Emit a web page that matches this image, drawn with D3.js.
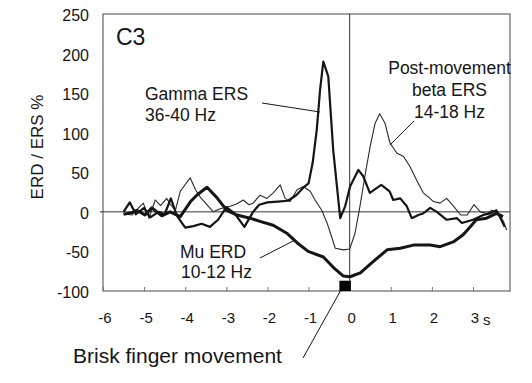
<!DOCTYPE html>
<html><head><meta charset="utf-8">
<script src="https://cdn.jsdelivr.net/npm/d3@7"></script>
<style>
html,body{margin:0;padding:0;background:#fff;}
svg{display:block;font-family:"Liberation Sans",Arial,Helvetica,sans-serif;}
</style></head>
<body><svg id="c" width="532" height="383"></svg>
<script>
// ---- data (time in s relative to movement, values in % ERD/ERS) ----
const muT = [-5.5,-5.3,-5.18,-4.98,-4.81,-4.57,-4.37,-4.12,-3.87,-3.7,-3.47,-3.23,-2.99,-2.74,-2.42,-2.18,-1.86,-1.53,-1.28,-1.01,-0.64,-0.4,-0.16,0.01,0.26,0.57,0.91,1.23,1.55,1.96,2.2,2.52,2.76,2.93,3.08,3.33,3.57,3.73];
const muV = [-3,-1,2,-4,5,-5,0,-6,13,22,31,18,2,-4,-8,-12,-17,-27,-39,-50,-57,-70,-81,-82,-77,-63,-48,-46,-42,-42,-44,-38,-29,-19,-10,-8,-2,-6];

const gammaT = [-5.5,-5.35,-5.2,-5.0,-4.85,-4.65,-4.5,-4.35,-4.2,-4.0,-3.8,-3.6,-3.4,-3.2,-3.0,-2.8,-2.56,-2.35,-2.2,-2.0,-1.75,-1.5,-1.3,-1.1,-1.0,-0.9,-0.8,-0.72,-0.64,-0.52,-0.4,-0.23,-0.11,0.01,0.21,0.33,0.49,0.77,0.97,1.06,1.23,1.39,1.51,1.67,1.79,1.96,2.12,2.36,2.61,2.73,3.0,3.25,3.41,3.57,3.65,3.77];
const gammaV = [0,12,-3,5,-7,0,-3,17,-5,-20,-18,-15,-19,-10,6,-2,-19,0,9,12,13,14,21,32,36,62,104,154,190,171,78,-8,7,32,53,45,24,34,26,15,17,7,-8,-4,-2,5,0,-10,-8,-14,-10,-4,-2,2,-6,-19];

const betaT = [-5.5,-5.3,-5.15,-5.02,-4.88,-4.73,-4.6,-4.45,-4.37,-4.24,-4.12,-3.88,-3.75,-3.64,-3.45,-3.32,-3.15,-2.91,-2.75,-2.59,-2.45,-2.35,-2.18,-2.01,-1.86,-1.69,-1.57,-1.45,-1.28,-1.13,-0.96,-0.84,-0.68,-0.55,-0.43,-0.35,-0.15,0.0,0.13,0.25,0.37,0.5,0.62,0.73,0.86,0.98,1.15,1.31,1.47,1.63,1.79,1.91,2.04,2.2,2.36,2.53,2.7,2.86,3.02,3.18,3.34,3.46,3.62,3.74,3.82];
const betaV = [-2,-4,4,11,-8,15,8,17,10,2,26,43,28,19,8,0,4,7,10,15,9,11,21,17,24,34,17,13,28,32,26,15,2,-14,-33,-46,-48,-47,-27,7,45,83,112,124,112,87,74,70,57,40,24,19,13,11,17,7,-4,-4,9,0,-2,2,-2,-12,-23];

const xTicks = [-6,-5,-4,-3,-2,-1,0,1,2,3];
const yTicks = [-100,-50,0,50,100,150,200,250];
const movement = [-0.25, 0.03]; // brisk finger movement marker (s)

// ---- layout ----
const svg = d3.select("#c");
const L = 103, R = 510, T = 14, B = 291;
const x = d3.scaleLinear().domain([-6, 3.9]).range([L, R]);
const y = d3.scaleLinear().domain([-100, 250]).range([B, T]);
const ink = "#151515";

// frame
svg.append("rect").attr("x", L).attr("y", T).attr("width", R - L).attr("height", B - T)
  .attr("fill", "none").attr("stroke", "#666").attr("stroke-width", 1.2);

// zero lines
svg.append("line").attr("x1", L - 3).attr("x2", R).attr("y1", y(0)).attr("y2", y(0))
  .attr("stroke", "#333").attr("stroke-width", 1);
svg.append("line").attr("x1", x(0)).attr("x2", x(0)).attr("y1", T).attr("y2", B)
  .attr("stroke", "#333").attr("stroke-width", 1);

// bottom axis (inward ticks)
const xAxis = d3.axisBottom(x).tickValues(xTicks).tickSize(-4).tickPadding(0).tickFormat("");
svg.append("g").attr("transform", `translate(0,${B})`).call(xAxis)
  .call(g => { g.select(".domain").remove(); g.selectAll("line").attr("stroke", "#777"); });

// x tick labels
svg.append("g").selectAll("text").data(xTicks).join("text")
  .attr("x", d => x(d) + 2).attr("y", 323).attr("text-anchor", "middle")
  .attr("font-size", 15).attr("fill", ink).text(d => d);
svg.append("text").attr("x", 483).attr("y", 325).attr("font-size", 15).attr("fill", ink).text("s");

// y tick labels
svg.append("g").selectAll("text").data(yTicks).join("text")
  .attr("x", 89).attr("y", d => y(d) + 7).attr("text-anchor", "end")
  .attr("font-size", 16).attr("fill", ink).text(d => d);

// y title
svg.append("text").attr("transform", "translate(43,147) rotate(-90)").attr("text-anchor", "middle")
  .attr("font-size", 17).attr("fill", ink).text("ERD / ERS %");

// series
const line = d3.line().x(d => x(d[0])).y(d => y(d[1]));
const zip = (a, b) => a.map((t, i) => [t, b[i]]);
svg.append("path").datum(zip(betaT, betaV)).attr("d", line)
  .attr("fill", "none").attr("stroke", "#2a2a2a").attr("stroke-width", 1.1).attr("stroke-linejoin", "round");
svg.append("path").datum(zip(gammaT, gammaV)).attr("d", line)
  .attr("fill", "none").attr("stroke", ink).attr("stroke-width", 2.2).attr("stroke-linejoin", "round");
svg.append("path").datum(zip(muT, muV)).attr("d", line)
  .attr("fill", "none").attr("stroke", ink).attr("stroke-width", 3).attr("stroke-linejoin", "round");

// movement marker
svg.append("rect").attr("x", x(movement[0])).attr("y", y(-87))
  .attr("width", x(movement[1]) - x(movement[0])).attr("height", y(-100) - y(-87)).attr("fill", "#000");

// annotations
svg.append("text").attr("x", 116).attr("y", 45).attr("font-size", 23).attr("fill", ink).text("C3");

const lab = (tx, ty, s, anchor) => svg.append("text").attr("x", tx).attr("y", ty)
  .attr("font-size", 17.5).attr("fill", ink).attr("text-anchor", anchor || "start").text(s);
lab(145, 100, "Gamma ERS"); lab(145, 121, "36-40 Hz");
lab(449.5, 74, "Post-movement", "middle"); lab(449.5, 96, "beta ERS", "middle"); lab(449.5, 118, "14-18 Hz", "middle");
lab(180, 258, "Mu ERD"); lab(181, 278, "10-12 Hz");

const ptr = (x1, y1, x2, y2) => svg.append("line").attr("x1", x1).attr("y1", y1).attr("x2", x2).attr("y2", y2)
  .attr("stroke", ink).attr("stroke-width", 1);
ptr(262, 103, 320, 112);
ptr(414, 121, 390, 145);
ptr(260, 258, 295, 240);
ptr(303, 358, x(movement[0]) + 1, B);

svg.append("text").attr("x", 73).attr("y", 363).attr("font-size", 21).attr("fill", ink).text("Brisk finger movement");
</script></body></html>
